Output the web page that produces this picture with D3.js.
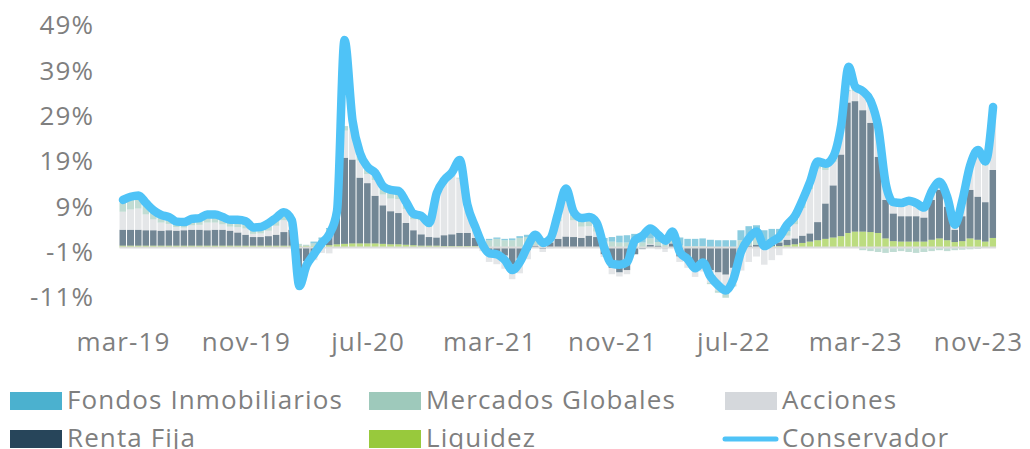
<!DOCTYPE html>
<html>
<head>
<meta charset="utf-8">
<script src="https://cdn.jsdelivr.net/npm/d3@7"></script>
<style>
  body { margin: 0; background: #fff; }
  svg { display: block; }
  text { font-family: "Open Sans", sans-serif; fill: #7f7f7f; letter-spacing: 1.1px; }
</style>
</head>
<body>
<svg id="chart" width="1030" height="449"></svg>
<script>
// aportes a la rentabilidad (%), cortes quincenales desde mar-19
var start = new Date(2019, 2, 1);
var nPoints = 115;
var dates = [];
d3.timeMonth.range(start, new Date(2023, 11, 2)).forEach(function (m) {
  dates.push(m);
  dates.push(new Date(m.getFullYear(), m.getMonth(), 16));
});
dates = dates.slice(0, nPoints);

var liquidez = [
  .4, .4, .4, .4, .4, .4, .4, .4, .4, .4,
  .4, .4, .4, .4, .4, .4, .4, .4, .4, .4,
  .4, .4, .4, .3, .3, .3, .3, .5, .7, .8,
  .9, .9, .9, .9, .8, .7, .7, .6, .5, .4,
  .4, .4, .3, .3, .3, .3, .3, .2, .1, .1,
  .1, .1, .1, .1, .1, .1, .1, .1, .1, .1,
  .1, .1, .1, .1, .1, .1, .1, .1, .1, .1,
  .1, .1, .1, .1, .1, .1, .1, .1, .1, .1,
  .1, .1, .1, .1, .1, .3, .3, .5, .7, 1.0,
  1.3, 1.6, 1.9, 2.2, 2.5, 3.2, 3.5, 3.5, 3.4, 3.2,
  2.0, 1.4, 1.3, 1.3, 1.3, 1.3, 1.7, 2.0, 1.6, 1.2,
  1.4, 2.0, 1.7, 1.3, 2.1
];
var rentaFija = [
  3.5, 3.5, 3.5, 3.4, 3.4, 3.3, 3.4, 3.3, 3.4, 3.5,
  3.5, 3.4, 3.5, 3.5, 3.3, 2.9, 2.4, 1.9, 1.9, 2.1,
  2.4, 3.0, 3.5, -6.0, -3.0, -1.0, 0.5, 2.5, 6.0, 19.0,
  18.5, 14.5, 13.3, 10.5, 8.5, 7.3, 6.9, 4.8, 3.3, 2.5,
  1.9, 1.8, 2.4, 2.6, 2.9, 2.9, 1.8, 0.3, -1.2, -1.2,
  -1.8, -3.8, -2.5, -0.6, 0.3, -0.3, 1.0, 1.8, 2.3, 2.2,
  2.0, 2.5, 2.2, -1.5, -4.5, -5.5, -5.0, -1.5, -0.3, 0.5,
  0.3, -0.2, 0.8, -2.0, -3.0, -4.0, -3.5, -5.0, -5.5, -6.0,
  -4.5, -0.5, 0.3, 0.5, 0.0, 0.3, 0.8, 1.2, 1.3, 1.6,
  1.8, 4.0, 7.8, 11.5, 18.0, 28.8, 28.8, 26.8, 24.1, 16.8,
  8.5, 6.1, 5.6, 5.6, 5.6, 5.3, 8.8, 10.7, 7.4, 2.7,
  5.5, 10.7, 9.5, 8.7, 15.0
];
var acciones = [
  4.0, 4.5, 4.7, 3.5, 2.4, 1.8, 1.4, 0.8, 0.6, 1.0,
  1.1, 1.7, 1.6, 1.2, 0.9, 1.2, 1.4, 0.7, 0.8, 1.2,
  2.0, 2.6, 0.7, -3.3, -2.0, -1.8, -1.2, -1.3, 0.2, 6.0,
  7.0, 3.8, 2.0, 3.5, 2.4, 2.8, 3.1, 3.1, 2.4, 3.1,
  2.2, 8.9, 11.3, 12.8, 12.0, 5.6, 1.6, -0.8, -2.0, -2.5,
  -2.9, -3.2, -3.2, -2.0, 0.1, -0.7, -0.2, 3.9, 8.7, 3.7,
  2.5, 2.1, 1.2, -0.6, -1.4, -0.9, -0.9, 0.1, -0.2, 0.2,
  -0.4, -0.8, 0.1, -1.2, -1.5, -2.5, -1.8, -2.8, -4.0, -4.3,
  -3.6, -4.6, -3.2, -2.0, -3.8, -2.8, -1.7, 0.9, 3.1, 6.1,
  9.8, 11.8, 7.4, 5.2, 5.4, 2.5, 2.2, 3.6, 4.2, 5.9,
  2.9, 1.9, 2.3, 2.8, 2.3, 1.6, 1.4, 1.2, 1.4, 0.5,
  3.0, 4.7, 9.7, 8.1, 13.0
];
var mercadosGlobales = [
  2.0, 2.2, 2.3, 1.9, 1.4, 1.1, 0.9, 0.6, 0.6, 0.8,
  0.9, 1.2, 1.2, 1.0, 0.9, 1.0, 1.0, 0.8, 0.8, 1.0,
  1.2, 1.2, 0.8, 0.5, 0.3, 0.6, 1.0, 1.0, 0.5, 1.0,
  1.0, 1.0, 1.0, 1.0, 1.2, 1.3, 1.2, 0.9, 0.6, 0.4,
  0.3, 0.3, 0.3, 0.2, 0.2, 0.1, 0.2, 0.8, 1.5, 1.8,
  1.5, 1.5, 2.0, 2.2, 1.8, 1.5, 0.8, 0.8, 1.0, 1.0,
  1.0, 1.0, 1.0, 1.2, 1.2, 1.0, 1.0, 1.0, 1.0, 1.2,
  0.8, 0.6, 0.5, 0.3, 0.2, 0.2, 0.2, -0.3, -0.5, -0.8,
  -0.5, 1.5, 1.8, 1.8, 1.5, 1.5, 1.5, 1.0, 1.0, 1.0,
  1.0, 1.0, 0.8, 0.5, 0.5, 0.3, 0.4, -0.6, -0.8, -1.0,
  -1.2, -1.0, -0.8, -1.0, -1.2, -1.0, -0.8, -0.6, -0.8, -0.6,
  -0.5, -0.4, -0.3, 0.3, 0.3
];
var fondosInmobiliarios = [
  0, 0, 0, 0, 0, 0, 0, 0, 0, 0,
  0, 0, 0, 0, 0, 0, 0, 0, 0, 0,
  0, 0, 0, 0, 0, 0.4, 0.4, 0.3, 0, 0,
  0, 0, 0, 0, 0, 0, 0, 0, 0, 0,
  0, 0, 0, 0, 0, 0, 0, 0, 0.3, 0.3,
  0.3, 0.4, 0.4, 0.5, 0.5, 0.4, 0.3, 0.3, 0.3, 0.3,
  0.3, 0.4, 0.4, 0.8, 1.0, 1.5, 1.6, 1.8, 2.0, 2.2,
  2.0, 1.8, 2.0, 1.8, 1.6, 1.6, 1.7, 1.6, 1.5, 1.5,
  1.5, 2.2, 2.5, 2.5, 2.2, 2.0, 1.5, 0.8, 0.3, 0.2,
  0, 0, 0, 0, 0, 0, 0, 0, 0, 0,
  0, 0, 0, 0, 0, 0, 0, 0, 0, 0,
  0, 0, 0, 0, 0
];
var conservador = [
  10.5, 11.2, 11.5, 9.8, 8.2, 7.2, 6.7, 5.7, 5.6, 6.3,
  6.5, 7.3, 7.3, 6.7, 6.1, 6.1, 5.8, 4.4, 4.5, 5.3,
  6.6, 7.8, 6.0, -8.5, -4.0, -1.5, 1.0, 3.0, 8.0, 45.8,
  28.0, 20.8, 17.8, 16.5, 13.5, 12.7, 12.5, 10.0, 7.4, 7.0,
  5.4, 12.0, 14.9, 16.5, 19.3, 9.5, 4.5, 0.5, -1.3, -1.5,
  -2.8, -5.0, -3.2, 0.2, 2.8, 1.0, 2.0, 7.5, 13.0, 7.9,
  6.5, 6.7, 5.5, 0.0, -3.6, -3.8, -3.2, 1.5, 2.6, 4.2,
  2.8, 1.5, 3.5, -1.0, -2.6, -4.6, -3.3, -6.4, -8.4, -9.5,
  -7.0, -1.0, 2.0, 3.5, 0.3, 1.3, 2.4, 5.0, 7.0, 10.5,
  14.5, 19.0, 18.5, 20.0, 27.0, 39.9, 35.5, 34.5, 32.3, 26.5,
  14.0, 10.0, 9.8, 10.3, 9.8, 8.8, 12.5, 14.5, 11.0, 5.0,
  10.5, 18.0, 21.5, 19.0, 31.0
];

var yTicks = [-11, -1, 9, 19, 29, 39, 49];
var yTickLabels = ["-11%", "-1%", "9%", "19%", "29%", "39%", "49%"];
var xTickDates = [new Date(2019, 2, 1), new Date(2019, 10, 1), new Date(2020, 6, 1), new Date(2021, 2, 1),
                  new Date(2021, 10, 1), new Date(2022, 6, 1), new Date(2023, 2, 1), new Date(2023, 10, 1)];
var xTickLabels = ["mar-19", "nov-19", "jul-20", "mar-21", "nov-21", "jul-22", "mar-23", "nov-23"];

var keys = ["liquidez", "rentaFija", "acciones", "mercadosGlobales", "fondosInmobiliarios"];
var colors = {
  fondosInmobiliarios: "#4bb1cf",
  mercadosGlobales: "#9ec9bb",
  acciones: "#d5d8dc",
  rentaFija: "#27455a",
  liquidez: "#98c93c"
};
var lineColor = "#4fc3f7";

var rows = dates.map(function (d, i) {
  return {
    date: d,
    liquidez: liquidez[i],
    rentaFija: rentaFija[i],
    acciones: acciones[i],
    mercadosGlobales: mercadosGlobales[i],
    fondosInmobiliarios: fondosInmobiliarios[i]
  };
});

var svg = d3.select("#chart");

var x = d3.scaleTime()
  .domain([new Date(2019, 2, 1), new Date(2023, 10, 1)])
  .range([123, 978]);
var y = d3.scaleLinear()
  .domain([-11, 49])
  .range([297.3, 25.5]);

var series = d3.stack().keys(keys).offset(d3.stackOffsetDiverging)(rows);

// barras apiladas
var barW = function (i) {
  if (i < rows.length - 1) return x(rows[i + 1].date) - x(rows[i].date) - 1;
  return 6.5;
};
svg.append("g")
  .selectAll("g")
  .data(series)
  .join("g")
    .attr("fill", function (s) { return colors[s.key]; })
    .attr("fill-opacity", 0.65)
  .selectAll("rect")
  .data(function (s) { return s; })
  .join("rect")
    .attr("x", function (d) { return x(d.data.date) - 3.5; })
    .attr("y", function (d) { return y(Math.max(d[0], d[1])); })
    .attr("width", function (d, i) { return barW(i); })
    .attr("height", function (d) { return Math.abs(y(d[0]) - y(d[1])); });

// linea de cero
svg.append("line")
  .attr("x1", x(dates[0]) - 3.5)
  .attr("x2", x(dates[dates.length - 1]) + 3)
  .attr("y1", y(0))
  .attr("y2", y(0))
  .style("stroke", "#dcdcdc")
  .style("stroke-width", 2);

// linea conservador
var line = d3.line()
  .x(function (d, i) { return x(dates[i]); })
  .y(function (d) { return y(d); })
  .curve(d3.curveMonotoneX);
svg.append("path")
  .datum(conservador)
  .attr("d", line)
  .attr("fill", "none")
  .attr("stroke", lineColor)
  .attr("stroke-width", 8.5)
  .attr("stroke-linejoin", "round")
  .attr("stroke-linecap", "round");

// ejes
var yAxis = svg.append("g")
  .attr("transform", "translate(94,0)")
  .call(d3.axisLeft(y).tickValues(yTicks)
    .tickFormat(function (d, i) { return yTickLabels[i]; })
    .tickSize(0).tickPadding(0));
yAxis.select(".domain").remove();
yAxis.selectAll("text").style("font-size", "26px").attr("fill", "#7f7f7f");

var xAxis = svg.append("g")
  .attr("transform", "translate(0,330)")
  .call(d3.axisBottom(x).tickValues(xTickDates)
    .tickFormat(function (d, i) { return xTickLabels[i]; })
    .tickSize(0).tickPadding(0));
xAxis.select(".domain").remove();
xAxis.selectAll("text").attr("y", 21).attr("dy", 0).style("font-size", "26px").attr("fill", "#7f7f7f");

// leyenda
var legendItems = [
  { name: "Fondos Inmobiliarios", key: "fondosInmobiliarios", x: 10, y: 392 },
  { name: "Mercados Globales", key: "mercadosGlobales", x: 369, y: 392 },
  { name: "Acciones", key: "acciones", x: 725, y: 392 },
  { name: "Renta Fija", key: "rentaFija", x: 10, y: 430 },
  { name: "Liquidez", key: "liquidez", x: 369, y: 430 },
  { name: "Conservador", key: "line", x: 725, y: 430 }
];
legendItems.forEach(function (it) {
  if (it.key === "line") {
    svg.append("line")
      .attr("x1", it.x).attr("x2", it.x + 51)
      .attr("y1", it.y + 9).attr("y2", it.y + 9)
      .style("stroke", lineColor)
      .style("stroke-width", 5)
      .style("stroke-linecap", "round");
  } else {
    svg.append("rect")
      .attr("x", it.x).attr("y", it.y)
      .attr("width", 52).attr("height", 18)
      .attr("fill", colors[it.key]);
  }
  svg.append("text")
    .attr("x", it.x + 57)
    .attr("y", it.y + 17)
    .text(it.name)
    .style("font-size", "26px");
});
</script>
</body>
</html>
